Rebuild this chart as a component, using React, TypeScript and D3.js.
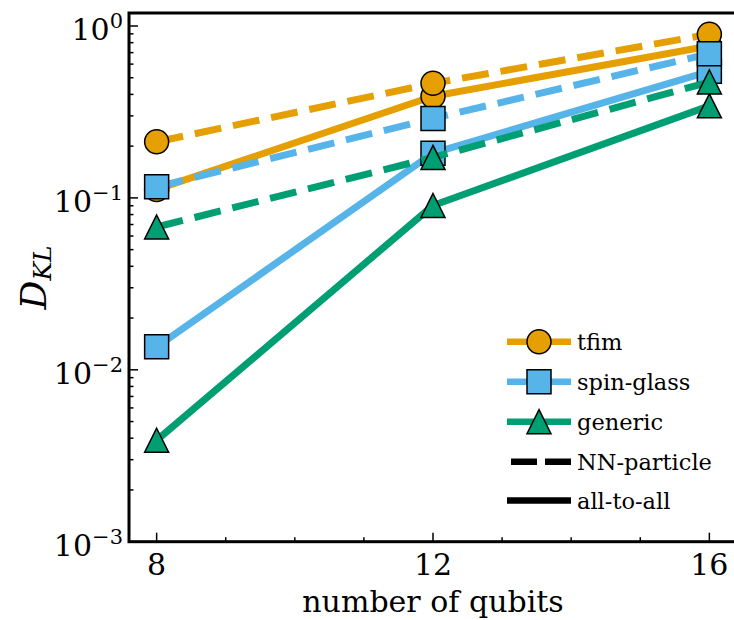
import { useRef, useEffect } from "react";
import * as d3 from "d3";

const qubits = [8, 12, 16];
const tfimNN = [0.212, 0.464, 0.895];
const tfimAll = [0.112, 0.39, 0.765];
const spinNN = [0.116, 0.29, 0.69];
const spinAll = [0.0136, 0.182, 0.545];
const genericNN = [0.0677, 0.172, 0.472];
const genericAll = [0.00389, 0.0903, 0.343];

const yMajor = [1e-3, 1e-2, 1e-1, 1];
const yMajorExp = ["\u22123", "\u22122", "\u22121", "0"];
const xMajor = [8, 12, 16];

const legendLabels = ["tfim", "spin-glass", "generic", "NN-particle", "all-to-all"];

const ORANGE = "#E69F00";
const BLUE = "#56B4E9";
const GREEN = "#009E73";
const FONT = "'DejaVu Serif', serif";

function markerPath(shape: string) {
  if (shape === "circle") return d3.symbol(d3.symbolCircle, Math.PI * 144)();
  if (shape === "square") return "M-12,-12H12V12H-12Z";
  return "M0,-12L12,12L-12,12Z";
}

export default function App() {
  const svgRef = useRef<SVGSVGElement>(null);

  useEffect(() => {
    const svg = d3.select(svgRef.current);
    svg.selectAll("*").remove();

    const width = 734;
    const height = 620;
    const left = 129;
    const right = 737;
    const top = 13;
    const bottom = 541.7;

    const x = d3.scaleLinear().domain([7.6, 16.4]).range([left, right]);
    const y = d3.scaleLog().domain([1e-3, 1.19]).range([bottom, top]);

    svg.attr("width", width).attr("height", height).attr("font-family", FONT);

    // series: solid before dashed within each family
    const series = [
      { vals: tfimAll, color: ORANGE, shape: "circle", dash: null },
      { vals: tfimNN, color: ORANGE, shape: "circle", dash: "27,12" },
      { vals: spinAll, color: BLUE, shape: "square", dash: null },
      { vals: spinNN, color: BLUE, shape: "square", dash: "27,12" },
      { vals: genericAll, color: GREEN, shape: "triangle", dash: null },
      { vals: genericNN, color: GREEN, shape: "triangle", dash: "27,12" },
    ];

    const line = d3
      .line<number>()
      .x((_, i) => x(qubits[i]))
      .y((d) => y(d));

    const plot = svg.append("g");

    series.forEach((s) => {
      plot
        .append("path")
        .attr("d", line(s.vals))
        .attr("fill", "none")
        .attr("stroke", s.color)
        .attr("stroke-width", 7)
        .attr("stroke-dasharray", s.dash)
        .attr("stroke-linejoin", "round");

      plot
        .selectAll(null)
        .data(s.vals)
        .join("path")
        .attr("d", markerPath(s.shape))
        .attr("transform", (d, i) => `translate(${x(qubits[i])},${y(d)})`)
        .attr("fill", s.color)
        .attr("stroke", "#000")
        .attr("stroke-width", 1.5);
    });

    // ticks (inward)
    const axis = svg.append("g").attr("stroke", "#000").attr("stroke-width", 1.5);

    const yMinor: number[] = [];
    [-3, -2, -1].forEach((e) => {
      for (let k = 2; k <= 9; k++) yMinor.push(k * Math.pow(10, e));
    });

    axis
      .selectAll(null)
      .data(yMinor)
      .join("line")
      .attr("x1", left)
      .attr("x2", left + 4.5)
      .attr("y1", (d) => y(d))
      .attr("y2", (d) => y(d));

    axis
      .selectAll(null)
      .data(yMajor)
      .join("line")
      .attr("x1", left)
      .attr("x2", left + 9)
      .attr("y1", (d) => y(d))
      .attr("y2", (d) => y(d));

    const xMinor = d3.range(8, 17).filter((v) => !xMajor.includes(v));

    axis
      .selectAll(null)
      .data(xMinor)
      .join("line")
      .attr("x1", (d) => x(d))
      .attr("x2", (d) => x(d))
      .attr("y1", bottom)
      .attr("y2", bottom - 4.5);

    axis
      .selectAll(null)
      .data(xMajor)
      .join("line")
      .attr("x1", (d) => x(d))
      .attr("x2", (d) => x(d))
      .attr("y1", bottom)
      .attr("y2", bottom - 9);

    // frame
    svg
      .append("rect")
      .attr("x", left)
      .attr("y", top)
      .attr("width", right - left)
      .attr("height", bottom - top)
      .attr("fill", "none")
      .attr("stroke", "#000")
      .attr("stroke-width", 3);

    // y tick labels
    const yLab = svg
      .selectAll(null)
      .data(yMajor)
      .join("text")
      .attr("x", 123)
      .attr("y", (d) => y(d) + 14)
      .attr("text-anchor", "end")
      .attr("font-size", 30);
    yLab.append("tspan").text("10");
    yLab
      .append("tspan")
      .attr("dy", -12)
      .attr("font-size", 21)
      .text((_, i) => yMajorExp[i]);

    // x tick labels
    svg
      .selectAll(null)
      .data(xMajor)
      .join("text")
      .attr("x", (d) => x(d))
      .attr("y", 575)
      .attr("text-anchor", "middle")
      .attr("font-size", 30)
      .text((d) => d);

    // axis titles
    svg
      .append("text")
      .attr("x", (left + 737) / 2)
      .attr("y", 612)
      .attr("text-anchor", "middle")
      .attr("font-size", 30)
      .text("number of qubits");

    const yt = svg
      .append("text")
      .attr("transform", `translate(46,${(top + bottom) / 2}) rotate(-90)`)
      .attr("text-anchor", "middle")
      .attr("font-style", "italic")
      .attr("font-size", 36);
    yt.append("tspan").text("D");
    yt.append("tspan").attr("dy", 5).attr("font-size", 25).text("KL");

    // legend
    const legendRows = [
      { color: ORANGE, shape: "circle", dash: null },
      { color: BLUE, shape: "square", dash: null },
      { color: GREEN, shape: "triangle", dash: null },
      { color: "#000", shape: null, dash: "26,8" },
      { color: "#000", shape: null, dash: null },
    ];
    const legendY = [341.7, 381.7, 421.7, 461.7, 500.5];

    const legend = svg.append("g");
    const items = legend
      .selectAll(null)
      .data(legendRows)
      .join("g")
      .attr("transform", (_, i) => `translate(507,${legendY[i]})`);

    items
      .append("line")
      .attr("x1", (d) => (d.dash ? 4 : 0))
      .attr("x2", 64)
      .attr("stroke", (d) => d.color)
      .attr("stroke-width", 6.5)
      .attr("stroke-dasharray", (d) => d.dash);

    items
      .filter((d) => d.shape !== null)
      .append("path")
      .attr("d", (d) => markerPath(d.shape as string))
      .attr("transform", "translate(32,0)")
      .attr("fill", (d) => d.color)
      .attr("stroke", "#000")
      .attr("stroke-width", 1.5);

    items
      .append("text")
      .attr("x", 70)
      .attr("y", 8)
      .attr("font-size", 22.5)
      .text((_, i) => legendLabels[i]);
  }, []);

  return (
    <svg
      ref={svgRef}
      style={{ position: "absolute", left: 0, top: 0, background: "#fff" }}
    />
  );
}
